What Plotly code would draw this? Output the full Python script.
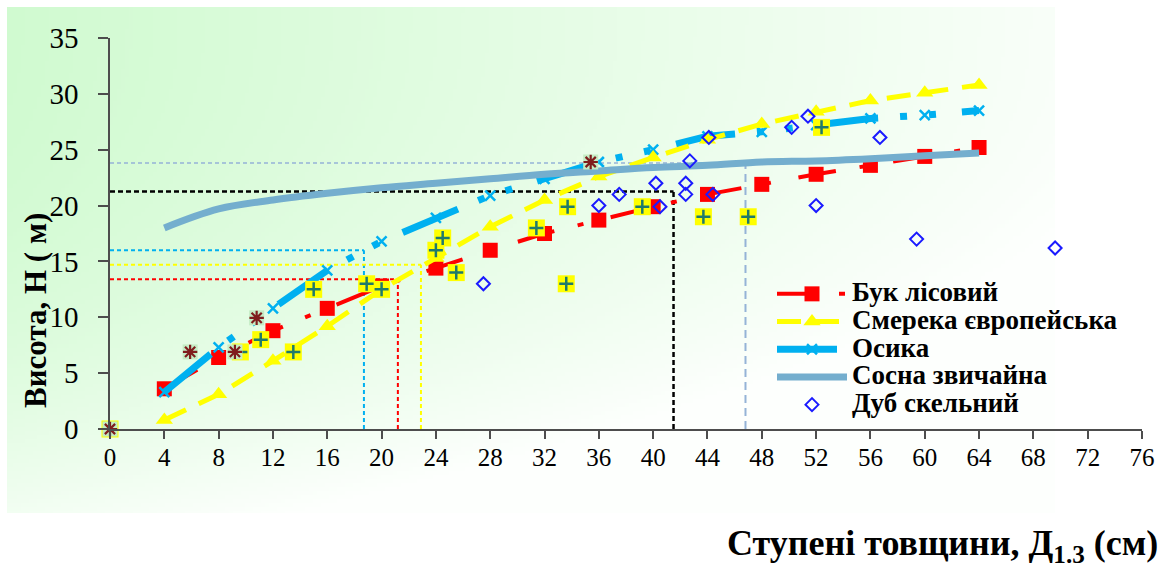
import base64
import struct
import zlib

import plotly.graph_objects as go

# Diameter classes (cm) shared by the fitted series
diam = [4, 8, 12, 16, 20, 24, 28, 32, 36, 40, 44, 48, 52, 56, 60, 64]

# Heights (m) by species
beech_h = [3.6, 6.4, 8.8, 10.8, 12.8, 14.4, 16.0, 17.5, 18.7, 19.9, 21.0, 21.9, 22.8, 23.6, 24.4, 25.2]
spruce_h = [0.8, 3.1, 6.1, 9.2, 12.5, 15.3, 18.1, 20.5, 22.6, 24.3, 25.9, 27.3, 28.4, 29.4, 30.1, 30.8]
aspen_h = [3.3, 7.3, 10.8, 14.2, 16.8, 18.9, 20.9, 22.4, 23.9, 25.0, 26.2, 26.6, 27.2, 27.8, 28.1, 28.5]
pine_h = [18.0, 19.7, 20.5, 21.1, 21.6, 22.0, 22.4, 22.8, 23.1, 23.4, 23.6, 23.9, 24.0, 24.2, 24.45, 24.7]

# Sessile oak measurements
oak_d = [27.5, 36.0, 37.5, 40.2, 40.5, 42.4, 42.4, 42.7, 44.1, 44.4, 50.2, 51.4, 52.0, 56.7, 59.4, 69.6]
oak_h = [13.0, 20.0, 21.0, 22.0, 19.9, 21.0, 22.0, 24.0, 26.1, 21.0, 27.0, 28.0, 20.0, 26.1, 17.0, 16.2]

# Additional sample trees (not listed in the legend)
plus_d = [0, 9.6, 11.1, 13.5, 15.0, 18.9, 20.0, 24.0, 24.5, 25.5, 31.4, 33.6, 33.7, 39.2, 43.7, 47.0, 52.4]
plus_h = [0, 6.9, 8.0, 6.9, 12.5, 13.0, 12.5, 16.0, 17.1, 14.0, 18.0, 13.0, 19.9, 19.9, 19.0, 19.0, 27.0]
star_d = [0, 5.9, 9.2, 10.8, 35.4]
star_h = [0, 6.9, 6.9, 9.95, 23.9]

# Guide lines: diameter / height pairs
ref_d = [18.7, 21.2, 22.9, 41.5, 46.8]
ref_h = [16.0, 13.4, 14.7, 21.25, 23.8]
ref_color = ["#00b0f0", "#ff0000", "#ffff00", "#000000", "#95b3d7"]
ref_width = [2, 2, 2, 2.5, 1.5]

FONT = '"Liberation Serif", "Times New Roman", Tinos, serif'
LEGEND_TEXT = '<span style="font-size:27px">{}</span>'

W, H = 1167, 566
L, R, T, B = 110, 1142, 38, 429
PW, PH = R - L, B - T


def px_x(p):
    return (p - L) / PW


def px_y(p):
    return (B - p) / PH


def gradient_png(w, h):
    base = (208, 250, 208)
    raw = bytearray()
    for j in range(h):
        raw.append(0)
        v = j / (h - 1)
        for i in range(w):
            u = i / (w - 1)
            t = min(0.96, 0.86 * u + 0.72 * v ** 2.5)
            raw.extend(int(round(c + (255 - c) * t)) for c in base)

    def chunk(tag, data):
        body = tag + data
        return struct.pack(">I", len(data)) + body + struct.pack(">I", zlib.crc32(body) & 0xFFFFFFFF)

    png = (b"\x89PNG\r\n\x1a\n"
           + chunk(b"IHDR", struct.pack(">IIBBBBB", w, h, 8, 2, 0, 0, 0))
           + chunk(b"IDAT", zlib.compress(bytes(raw), 9))
           + chunk(b"IEND", b""))
    return "data:image/png;base64," + base64.b64encode(png).decode()


fig = go.Figure()

# Beech
fig.add_trace(go.Scatter(
    x=diam, y=beech_h, name=LEGEND_TEXT.format("Бук лісовий"),
    mode="lines+markers", legendrank=1,
    line=dict(color="#ff0000", width=4, dash="38px,24px,6px,28px"),
    marker=dict(symbol="square", size=15, color="#ff0000"),
    cliponaxis=False,
))
# Aspen
fig.add_trace(go.Scatter(
    x=diam, y=aspen_h, name=LEGEND_TEXT.format("Осика"),
    mode="lines+markers", legendrank=3,
    line=dict(color="#00b0f0", width=7, dash="60px,22px,7px,22px,7px,26px"),
    marker=dict(symbol="x-thin-open", size=10, color="#00b0f0",
                line=dict(width=2.5, color="#00b0f0")),
    cliponaxis=False,
))
# Spruce
fig.add_trace(go.Scatter(
    x=diam, y=spruce_h, name=LEGEND_TEXT.format("Смерека європейська"),
    mode="lines+markers", legendrank=2,
    line=dict(color="#ffff00", width=5, dash="24px,14px"),
    marker=dict(symbol="triangle-up", size=15, color="#ffff00"),
    cliponaxis=False,
))
# Scots pine
fig.add_trace(go.Scatter(
    x=diam, y=pine_h, name=LEGEND_TEXT.format("Сосна звичайна"),
    mode="lines", legendrank=4,
    line=dict(color="#74aece", width=7, shape="spline"),
    cliponaxis=False,
))
# Extra samples: yellow squares with a cross
fig.add_trace(go.Scatter(
    x=plus_d, y=plus_h, mode="markers", showlegend=False,
    marker=dict(symbol="square", size=17, color="#ffff00"),
    cliponaxis=False,
))
fig.add_trace(go.Scatter(
    x=plus_d, y=plus_h, mode="markers", showlegend=False,
    marker=dict(symbol="cross-thin-open", size=10, color="#1f7a6c",
                line=dict(width=2.5, color="#1f7a6c")),
    cliponaxis=False,
))
# Extra samples: asterisks on a pale box
fig.add_trace(go.Scatter(
    x=star_d, y=star_h, mode="markers", showlegend=False,
    marker=dict(symbol="square", size=15, color="#c4ecc4"),
    cliponaxis=False,
))
fig.add_trace(go.Scatter(
    x=star_d, y=star_h, mode="markers", showlegend=False,
    marker=dict(symbol="asterisk-open", size=12, color="#7f1d1d",
                line=dict(width=2.2, color="#7f1d1d")),
    cliponaxis=False,
))
# Sessile oak
fig.add_trace(go.Scatter(
    x=oak_d, y=oak_h, name=LEGEND_TEXT.format("Дуб скельний"),
    mode="markers", legendrank=5,
    marker=dict(symbol="diamond-open", size=10, color="#1a1aff",
                line=dict(width=2, color="#1a1aff")),
    cliponaxis=False,
))

# Dashed guides from the axes to each reading
shapes = []
for d, h, c, w in zip(ref_d, ref_h, ref_color, ref_width):
    hd = "4px,3px" if c != "#000000" else "5px,3px"
    vd = "8px,5px" if c == "#95b3d7" else hd
    vw = 2 if c == "#95b3d7" else w
    shapes.append(dict(type="line", xref="x", yref="y", x0=0, x1=d, y0=h, y1=h,
                       line=dict(color=c, width=w, dash=hd), layer="below"))
    shapes.append(dict(type="line", xref="x", yref="y", x0=d, x1=d, y0=0, y1=h,
                       line=dict(color=c, width=vw, dash=vd), layer="below"))

bg_left, bg_top, bg_right, bg_bottom = 7, 7, 1055, 513

fig.update_layout(
    width=W, height=H,
    margin=dict(l=L, r=W - R, t=T, b=H - B, pad=0),
    paper_bgcolor="#ffffff",
    plot_bgcolor="rgba(0,0,0,0)",
    font=dict(family=FONT, color="#000000"),
    shapes=shapes,
    images=[dict(
        source=gradient_png(262, 127), xref="paper", yref="paper",
        x=px_x(bg_left), y=px_y(bg_top),
        sizex=(bg_right - bg_left) / PW, sizey=(bg_bottom - bg_top) / PH,
        xanchor="left", yanchor="top", sizing="stretch", layer="below",
    )],
    xaxis=dict(
        range=[0, 76], tickmode="linear", tick0=0, dtick=4,
        showgrid=False, zeroline=False, showline=True, linecolor="#4d4d4d", linewidth=1.5,
        ticks="outside", ticklen=8, tickwidth=1.5, tickcolor="#4d4d4d",
        tickfont=dict(family=FONT, size=25, color="#000000"),
        ticklabelstandoff=-3,
    ),
    yaxis=dict(
        range=[0, 35], tickmode="linear", tick0=0, dtick=5,
        showgrid=False, zeroline=False, showline=True, linecolor="#4d4d4d", linewidth=1.5,
        ticks="outside", ticklen=10, tickwidth=1.5, tickcolor="#4d4d4d",
        tickfont=dict(family=FONT, size=29, color="#000000"),
        ticklabelstandoff=14,
    ),
    legend=dict(
        x=px_x(772), y=px_y(275), xanchor="left", yanchor="top",
        bgcolor="rgba(0,0,0,0)", borderwidth=0,
        font=dict(family=FONT, size=19, color="#000000", weight="bold"),
        itemwidth=70, tracegroupgap=0,
    ),
    annotations=[
        dict(text="Висота, Н ( м)", xref="paper", yref="paper",
             x=px_x(35), y=px_y(311), xanchor="center", yanchor="middle",
             textangle=-90, showarrow=False,
             font=dict(family=FONT, size=31, color="#000000", weight="bold")),
        dict(text="Ступені товщини, Д<sub>1.3</sub> (см)", xref="paper", yref="paper",
             x=px_x(1160), y=px_y(545), xanchor="right", yanchor="middle",
             showarrow=False,
             font=dict(family=FONT, size=36, color="#000000", weight="bold")),
    ],
    showlegend=True,
)

fig.write_html("out.html")
